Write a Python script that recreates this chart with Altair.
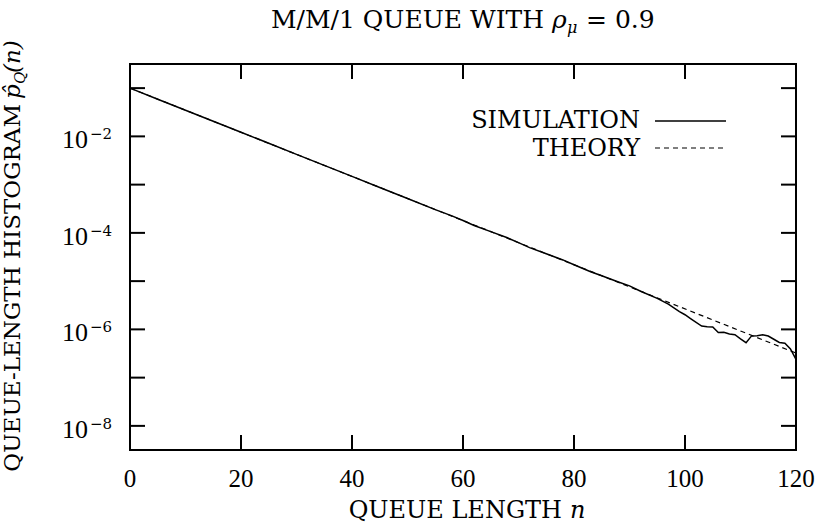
import altair as alt
import pandas as pd

# ---- data ----
SIM_N = [0, 5, 10, 15, 20, 25, 30, 35, 40, 45, 50, 55, 58, 60, 62, 65, 68, 70, 72, 75,
         78, 80, 83, 85, 88, 90, 92, 95, 97, 99, 100, 101, 103, 104, 105, 106, 107, 108,
         109, 110, 111, 112, 113, 114, 115, 116, 117, 118, 119, 120]
SIM_P = [1.00e-1, 5.90e-2, 3.49e-2, 2.06e-2, 1.22e-2, 7.18e-3, 4.24e-3, 2.50e-3, 1.48e-3,
         8.73e-4, 5.15e-4, 3.04e-4, 2.25e-4, 1.80e-4, 1.42e-4, 1.06e-4, 7.9e-5, 6.27e-5,
         4.95e-5, 3.70e-5, 2.75e-5, 2.18e-5, 1.56e-5, 1.29e-5, 9.6e-6, 7.98e-6, 6.17e-6,
         4.40e-6, 3.33e-6, 2.34e-6, 2.01e-6, 1.67e-6, 1.17e-6, 1.14e-6, 1.12e-6, 8.59e-7,
         8.69e-7, 8.00e-7, 7.73e-7, 6.34e-7, 5.31e-7, 7.33e-7, 7.40e-7, 7.71e-7, 7.28e-7,
         6.24e-7, 5.37e-7, 5.18e-7, 3.94e-7, 2.40e-7]
THEORY_N = [0, 30, 60, 90, 120]
THEORY_P = [1.0e-1, 4.24e-3, 1.80e-4, 7.62e-6, 3.23e-7]

X_TICKS = [0, 20, 40, 60, 80, 100, 120]
Y_TICKS = [1e-1, 1e-2, 1e-3, 1e-4, 1e-5, 1e-6, 1e-7, 1e-8]
Y_LABEL_VAL = [1e-2, 1e-4, 1e-6, 1e-8]
Y_LABEL_EXP = ["\u22122", "\u22124", "\u22126", "\u22128"]
LEGEND = ["SIMULATION", "THEORY"]
TITLE = ["M/M/1 QUEUE WITH", "\u03c1", "\u03bc", "= 0.9"]
XTITLE = ["QUEUE LENGTH", "n"]
YTITLE = ["QUEUE-LENGTH HISTOGRAM", "p\u0302", "Q", "(n)"]

W, H = 666, 386
SERIF = "DejaVu Serif"
DIGITS = "Liberation Serif"

xs = alt.Scale(domain=[0, 120], nice=False, zero=False)
ys = alt.Scale(type="log", domain=[10 ** -8.5, 10 ** -0.5], nice=False)


def X(f):
    return alt.X(f, scale=xs, axis=None)


def Y(f):
    return alt.Y(f, scale=ys, axis=None)


sim = pd.DataFrame({"n": SIM_N, "p": SIM_P})
theo = pd.DataFrame({"n": THEORY_N, "p": THEORY_P})
xtk = pd.DataFrame({"n": X_TICKS})
ytk = pd.DataFrame({"v": Y_TICKS})
ylab = pd.DataFrame({"v": Y_LABEL_VAL, "e": Y_LABEL_EXP})
one = pd.DataFrame({"a": [0]})

sim_line = alt.Chart(sim).mark_line(color="black", strokeWidth=1.5).encode(x=X("n:Q"), y=Y("p:Q"))
theo_line = alt.Chart(theo).mark_line(color="black", strokeWidth=1.2, strokeDash=[5, 4]).encode(
    x=X("n:Q"), y=Y("p:Q"))

tick_style = dict(color="black", strokeWidth=2)
ytick_l = alt.Chart(ytk).mark_rule(**tick_style).encode(y=Y("v:Q"), x=alt.value(0), x2=alt.value(15))
ytick_r = alt.Chart(ytk).mark_rule(**tick_style).encode(y=Y("v:Q"), x=alt.value(W - 15), x2=alt.value(W))
xtick_b = alt.Chart(xtk).mark_rule(**tick_style).encode(x=X("n:Q"), y=alt.value(H - 15), y2=alt.value(H))
xtick_t = alt.Chart(xtk).mark_rule(**tick_style).encode(x=X("n:Q"), y=alt.value(0), y2=alt.value(15))

xlab = alt.Chart(xtk).mark_text(font=DIGITS, fontSize=25, align="center", baseline="alphabetic").encode(
    x=X("n:Q"), y=alt.value(423), text=alt.Text("n:Q", format="d"))
ylab10 = alt.Chart(ylab).mark_text(font=DIGITS, fontSize=26, align="right", baseline="alphabetic", dy=12).encode(
    y=Y("v:Q"), x=alt.value(-42), text=alt.value("10"))
yexp = alt.Chart(ylab).mark_text(font=SERIF, fontSize=15, align="left", baseline="alphabetic", dy=3).encode(
    y=Y("v:Q"), x=alt.value(-40), text="e:N")


def txt(s, x, y, size=23, align="left", italic=False, angle=0, dy=0):
    kw = dict(font=SERIF, fontSize=size, align=align, baseline="alphabetic", dy=dy)
    if italic:
        kw["fontStyle"] = "italic"
    if angle:
        kw["angle"] = angle
    return alt.Chart(one).mark_text(color="black", **kw).encode(
        x=alt.value(x), y=alt.value(y), text=alt.value(s))


# legend
leg = [
    txt(LEGEND[0], 510, 64, size=24, align="right"),
    txt(LEGEND[1], 510, 92, size=24, align="right"),
    alt.Chart(one).mark_rule(color="black", strokeWidth=1.5).encode(
        x=alt.value(525), x2=alt.value(596), y=alt.value(57)),
    alt.Chart(one).mark_rule(color="black", strokeWidth=1.2, strokeDash=[5, 4]).encode(
        x=alt.value(525), x2=alt.value(596), y=alt.value(84)),
]

# title
title = [
    txt(TITLE[0], 414, -36, size=25, align="right"),
    txt(TITLE[1], 422, -36, size=25, italic=True),
    txt(TITLE[2], 437, -31, size=16, italic=True),
    txt(TITLE[3], 456, -36, size=25),
]

# x title
xtitle = [
    txt(XTITLE[0], 432, 454, size=24, align="right"),
    txt(XTITLE[1], 440, 454, size=24, italic=True),
]

# y title (rotated)
ytitle = [
    txt(YTITLE[0], -110, 40, size=23, align="right", angle=270),
    txt(YTITLE[1], -110, 35, size=23, align="left", italic=True, angle=270),
    txt(YTITLE[2], -110, 20, size=15, align="left", italic=True, angle=270, dy=5),
    txt(YTITLE[3], -110, 9, size=23, align="left", italic=True, angle=270),
]

chart = alt.layer(
    theo_line, sim_line, ytick_l, ytick_r, xtick_b, xtick_t, xlab, ylab10, yexp,
    *leg, *title, *xtitle, *ytitle
).properties(
    width=W, height=H,
    autosize=alt.AutoSizeParams(type="none"),
    padding={"left": 130, "top": 64, "right": 19, "bottom": 81},
).configure_view(stroke="black", strokeWidth=2)

chart.save("out.html", embed_options={"renderer": "svg", "actions": False})
